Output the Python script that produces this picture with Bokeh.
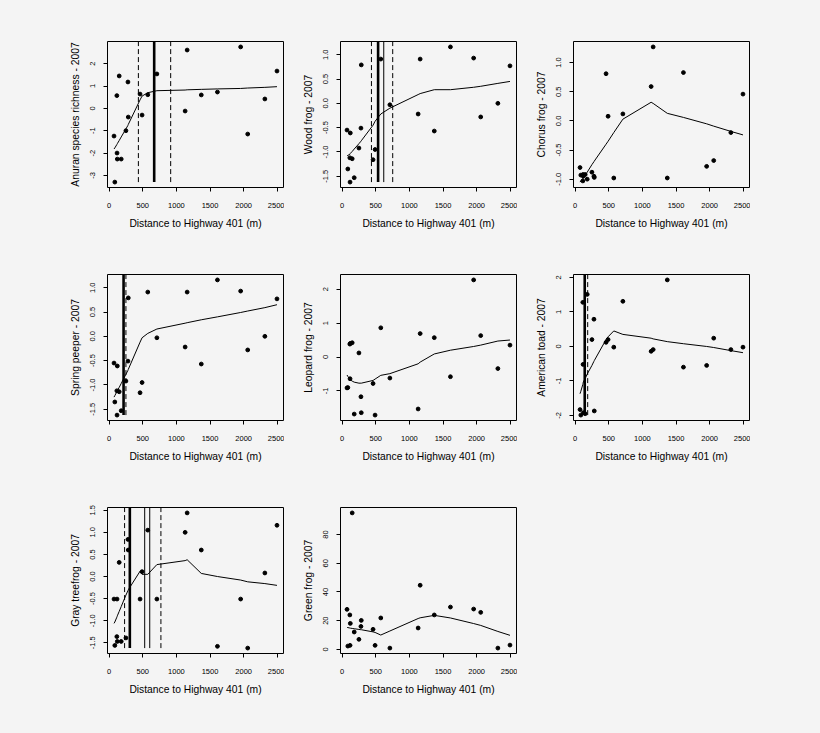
from bokeh.plotting import figure
from bokeh.layouts import gridplot
from bokeh.models import Range1d, FixedTicker, PrintfTickFormatter, GlobalInlineStyleSheet
from bokeh.embed import file_html
from bokeh.resources import INLINE

# distance of each site to Highway 401 (m)
dist = [73, 85, 115, 118, 122, 150, 180, 250, 280, 285, 460, 490, 575, 710,
        1130, 1160, 1370, 1610, 1955, 2060, 2315, 2495]
xticks = [0, 500, 1000, 1500, 2000, 2500]

richness = [-1.24, -3.3, 0.57, -2.0, -2.27, 1.45, -2.27, -1.0, 1.18, -0.39, 0.64,
            -0.3, 0.61, 1.54, -0.12, 2.61, 0.6, 0.73, 2.75, -1.15, 0.42, 1.67]
richness_fit = [-1.82, -1.77, -1.62, -1.6, -1.58, -1.44, -1.28, -0.92, -0.76, -0.72, 0.38,
                0.55, 0.7, 0.79, 0.82, 0.83, 0.85, 0.87, 0.89, 0.91, 0.94, 0.97]

wood = [-0.55, -1.35, -1.12, -1.62, -0.61, -1.14, -1.53, -0.92, -0.51, 0.79, -1.16,
        -0.95, 0.91, -0.03, -0.22, 0.91, -0.57, 1.16, 0.93, -0.28, 0.0, 0.77]
wood_fit = [-1.08, -1.07, -1.05, -1.04, -1.03, -0.99, -0.94, -0.83, -0.78, -0.77, -0.45,
            -0.37, -0.22, -0.1, 0.18, 0.2, 0.28, 0.28, 0.33, 0.35, 0.41, 0.45]

chorus = [-0.80, -0.93, -1.03, -0.92, -0.95, -0.92, -1.0, -0.88, -0.95, -0.97, 0.81,
          0.08, -0.98, 0.12, 0.59, 1.27, -0.98, 0.83, -0.78, -0.68, -0.2, 0.46]
chorus_fit = [-1.05, -1.03, -0.99, -0.98, -0.97, -0.93, -0.88, -0.75, -0.7, -0.69, -0.4,
              -0.35, -0.2, 0.03, 0.32, 0.3, 0.13, 0.06, -0.05, -0.09, -0.18, -0.24]

spring = [-0.55, -1.35, -1.12, -1.62, -0.61, -1.14, -1.53, -0.92, -0.51, 0.79, -1.16,
          -0.95, 0.91, -0.03, -0.22, 0.91, -0.57, 1.16, 0.93, -0.28, 0.0, 0.77]
spring_fit = [-1.25, -1.22, -1.14, -1.13, -1.12, -1.05, -0.97, -0.78, -0.7, -0.68, -0.12,
              -0.03, 0.06, 0.15, 0.27, 0.28, 0.34, 0.4, 0.49, 0.52, 0.59, 0.65]

leopard = [-0.91, -0.90, 0.38, -0.64, 0.40, 0.42, -1.68, 0.12, -1.17, -1.64, -0.78,
           -1.71, 0.86, -0.62, -1.53, 0.69, 0.57, -0.58, 2.27, 0.63, -0.34, 0.35]
leopard_fit = [-0.53, -0.57, -0.65, -0.66, -0.67, -0.71, -0.74, -0.77, -0.77, -0.77, -0.69,
               -0.65, -0.54, -0.49, -0.2, -0.15, 0.09, 0.2, 0.31, 0.35, 0.47, 0.5]

toad = [-1.83, -1.99, 1.28, -0.52, -1.92, -1.95, 1.51, 0.2, 0.79, -1.87, 0.12,
        0.2, -0.02, 1.31, -0.14, -0.09, 1.93, -0.6, -0.55, 0.24, -0.09, -0.02]
toad_fit = [-1.37, -1.3, -1.1, -1.07, -1.03, -0.93, -0.8, -0.55, -0.43, -0.41, 0.2,
            0.28, 0.45, 0.35, 0.24, 0.22, 0.14, 0.08, 0.0, -0.03, -0.12, -0.18]

treefrog = [-0.51, -1.56, -1.36, -0.51, -1.47, 0.32, -1.47, -1.39, 0.84, 0.6, -0.51,
            0.11, 1.05, -0.51, 1.0, 1.44, 0.6, -1.58, -0.51, -1.62, 0.08, 1.16]
treefrog_fit = [-1.06, -1.03, -0.92, -0.91, -0.89, -0.79, -0.68, -0.42, -0.32, -0.3, 0.12,
                0.05, 0.05, 0.27, 0.36, 0.38, 0.07, 0.0, -0.08, -0.12, -0.16, -0.2]

green = [27.9, 2.3, 24, 2.8, 18.1, 95.1, 12.1, 7.0, 16, 20.2, 14,
         2.8, 21.9, 0.9, 14.9, 44.7, 24, 29.5, 28.1, 25.8, 0.9, 3.0]
green_fit = [15.3, 15.2, 14.9, 14.9, 14.8, 14.6, 14.4, 13.9, 13.7, 13.7, 12.2,
             11.8, 10.0, 12.8, 21.5, 22.0, 23.7, 21.9, 18.0, 16.7, 12.5, 9.8]

# breakpoints: thick solid, thin solid, dashed
richness_breaks = ([670], [], [435, 915])
wood_breaks = ([535], [619], [436, 752])
spring_breaks = ([215], [], [250])
toad_breaks = ([143], [], [187])
treefrog_breaks = ([308], [529, 604], [230, 770])
no_breaks = ([], [], [])

BG = "#f4f4f4"
FONT = "Liberation Sans"


def make_panel(ylabel, ys, fit, yticks, yfmt, breaks, first_col=False, first_row=False):
    lo, hi = min(ys + fit), max(ys + fit)
    pad = 0.04 * (hi - lo)
    xpad = 0.04 * (max(dist) - min(dist))
    p = figure(width=284 if first_col else 233, height=241 if first_row else 233,
               output_backend="svg", toolbar_location=None,
               x_range=Range1d(min(dist) - xpad, max(dist) + xpad),
               y_range=Range1d(lo - pad, hi + pad),
               min_border_left=107 if first_col else 56, min_border_right=1,
               min_border_top=41 if first_row else 33, min_border_bottom=54,
               background_fill_color=BG, border_fill_color=BG,
               outline_line_color="black", outline_line_alpha=1.0)
    p.xgrid.visible = False
    p.ygrid.visible = False

    thick, thin, dashed = breaks
    top = hi + pad
    if thick:
        p.segment(x0=thick, y0=[lo] * len(thick), x1=thick, y1=[top] * len(thick),
                  line_color="black", line_width=2.6)
    if thin:
        p.segment(x0=thin, y0=[lo] * len(thin), x1=thin, y1=[top] * len(thin),
                  line_color="black", line_width=1)
    if dashed:
        p.segment(x0=dashed, y0=[lo] * len(dashed), x1=dashed, y1=[top] * len(dashed),
                  line_color="black", line_width=1, line_dash="5 3")

    p.line(dist, fit, line_color="black", line_width=1)
    p.scatter(dist, ys, size=3.8, fill_color="black", line_color="black")

    p.xaxis.ticker = FixedTicker(ticks=xticks)
    p.xaxis.formatter = PrintfTickFormatter(format="%d")
    p.yaxis.ticker = FixedTicker(ticks=yticks)
    p.yaxis.formatter = PrintfTickFormatter(format=yfmt)
    p.yaxis.major_label_orientation = "parallel"
    p.xaxis.axis_label = "Distance to Highway 401 (m)"
    p.yaxis.axis_label = ylabel
    for ax in (p.xaxis[0], p.yaxis[0]):
        ax.axis_line_color = None
        ax.major_tick_line_color = "black"
        ax.major_tick_out = 4
        ax.major_tick_in = 0
        ax.minor_tick_line_color = None
        ax.major_label_text_font = FONT
        ax.major_label_text_font_size = "7.5px"
        ax.major_label_text_color = "black"
        ax.axis_label_text_font = FONT
        ax.axis_label_text_font_size = "10.3px"
        ax.axis_label_text_font_style = "normal"
        ax.axis_label_text_color = "black"
        ax.axis_label_standoff = 7
    p.xaxis.major_label_standoff = 11
    p.yaxis.major_label_standoff = 8
    return p


p1 = make_panel("Anuran species richness - 2007", richness, richness_fit,
                [-3, -2, -1, 0, 1, 2], "%d", richness_breaks, first_col=True, first_row=True)
p2 = make_panel("Wood frog - 2007", wood, wood_fit,
                [-1.5, -1.0, -0.5, 0.0, 0.5, 1.0], "%.1f", wood_breaks, first_row=True)
p3 = make_panel("Chorus frog - 2007", chorus, chorus_fit,
                [-1.0, -0.5, 0.0, 0.5, 1.0], "%.1f", no_breaks, first_row=True)
p4 = make_panel("Spring peeper - 2007", spring, spring_fit,
                [-1.5, -1.0, -0.5, 0.0, 0.5, 1.0], "%.1f", spring_breaks, first_col=True)
p5 = make_panel("Leopard frog - 2007", leopard, leopard_fit,
                [-1, 0, 1, 2], "%d", no_breaks)
p6 = make_panel("American toad - 2007", toad, toad_fit,
                [-2, -1, 0, 1, 2], "%d", toad_breaks)
p7 = make_panel("Gray treefrog - 2007", treefrog, treefrog_fit,
                [-1.5, -1.0, -0.5, 0.0, 0.5, 1.0, 1.5], "%.1f", treefrog_breaks, first_col=True)
p8 = make_panel("Green frog - 2007", green, green_fit,
                [0, 20, 40, 60, 80], "%d", no_breaks)

p = gridplot([[p1, p2, p3], [p4, p5, p6], [p7, p8, None]], toolbar_location=None)
p.stylesheets = [GlobalInlineStyleSheet(css="html, body { background: #f4f4f4; }")]

open("out.html", "w").write(file_html(p, INLINE))
